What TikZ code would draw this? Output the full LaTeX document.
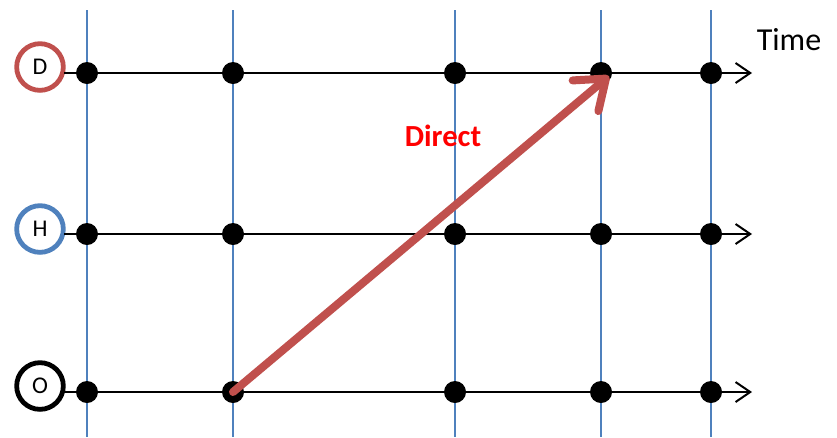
\documentclass[tikz,border=0pt]{standalone}
\usepackage{fontspec}
\setmainfont{Carlito}
\usepackage{xcolor}
\usepackage{tikz}
\usetikzlibrary{arrows.meta}

\definecolor{dred}{HTML}{C0504D}
\definecolor{hblue}{HTML}{4F81BD}

\begin{document}
\begin{tikzpicture}[x=0.75pt,y=-0.75pt,
    rowlabel/.style={circle, line width=3.6pt, minimum size=35pt, inner sep=0pt,
      font=\fontsize{18}{18}\selectfont},
    tdot/.style={circle, fill=black, minimum size=16.5pt, inner sep=0pt},
    timeline/.style={line width=1.5pt, -{Straight Barb[length=11pt,width=15pt]}},
    gridline/.style={hblue, line width=1pt},
    direct/.style={dred, line width=6pt, line cap=round,
      -{Straight Barb[length=20pt,width=30pt,line join=round,line cap=round]}}]
    \useasboundingbox (0,0) rectangle (837,437);

    % time steps
    \foreach \x in {87,233,455,601,711}
      \draw[gridline] (\x,10) -- (\x,437);

    % one row per place
    \foreach \name/\col/\y/\cy in {D/dred/73/67, H/hblue/234/229, O/black/392/386} {
      \node[rowlabel, draw=\col] (\name) at (40,\cy) {\name};
      \coordinate (\name start) at (64,\y);
      \coordinate (\name end) at (752,\y);
      \draw[timeline] (\name start) -- (\name end);
      \foreach \x [count=\i] in {87,233,455,601,711}
        \node[tdot] (\name\i) at (\x,\y) {};
    }

    \node at (789,40) {\fontsize{24}{24}\selectfont Time};

    % direct path
    \coordinate (tip) at (609,76);
    \draw[direct] (O2.center) -- (tip);
    \node[red] at (443,136) {\fontsize{23}{23}\selectfont\bfseries Direct};
  \end{tikzpicture}
\end{document}
